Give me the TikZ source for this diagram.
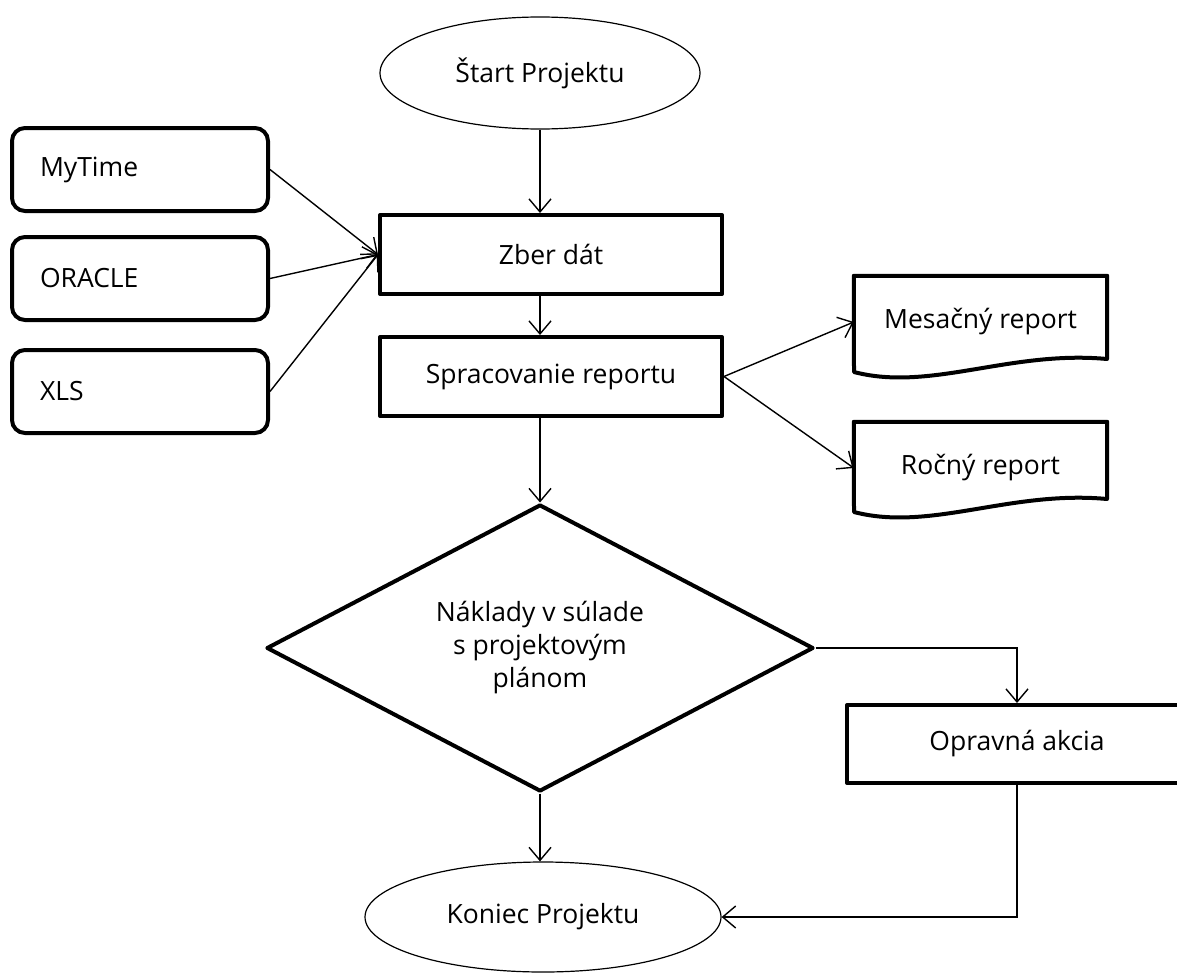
\documentclass[tikz,border=0pt]{standalone}
\usepackage{fontspec}
\setmainfont{Open Sans}
\usetikzlibrary{shapes.geometric,arrows.meta,calc}
\begin{document}
\begin{tikzpicture}[x=1pt,y=-1pt,
  font=\fontsize{26.5}{33}\selectfont,
  thickbox/.style={draw,line width=4pt,rectangle,inner sep=0pt,line join=round},
  srcbox/.style={draw,line width=4pt,rounded corners=13pt,minimum width=256pt,minimum height=83pt,text width=200pt,align=left,inner sep=0pt},
  term/.style={draw,ellipse,line width=1.2pt,inner sep=0pt},
  conn/.style={line width=1.4pt,-{Straight Barb[length=13pt,width=22pt]}},
  docbox/.style={rectangle,inner sep=0pt,minimum width=253pt,minimum height=92pt},
  docline/.style={line width=4pt,line join=round}]
\useasboundingbox (0,0) rectangle (1177,974);
\clip (0,0) rectangle (1177,974);

% terminals
\node[term,minimum width=320pt,minimum height=112pt] (start) at (540,73) {Štart Projektu};
\node[term,minimum width=356pt,minimum height=110pt] (kon) at (543,917) {Koniec Projektu};

% process boxes
\node[thickbox,minimum width=342pt,minimum height=79pt] (zber) at (551,254.5) {\raisebox{-2pt}{Zber dát}};
\node[thickbox,minimum width=342pt,minimum height=79pt] (sprac) at (551,376.5) {\raisebox{-2pt}{Spracovanie reportu}};
\node[thickbox,minimum width=340pt,minimum height=78pt] (opr) at (1017,744) {\raisebox{-2pt}{Opravná akcia}};

% sources
\node[srcbox] (mytime) at (140,169.5) {\raisebox{-3pt}{MyTime}};
\node[srcbox] (oracle) at (140,278.5) {\raisebox{-3pt}{ORACLE}};
\node[srcbox] (xls) at (140,391.5) {\raisebox{-3pt}{XLS}};

% decision
\node[draw,diamond,shape aspect=1.9,line width=4pt,line join=round,inner sep=0pt,minimum width=547pt,minimum height=287pt,align=center] (dia) at (540,648) {Náklady v súlade\\s projektovým\\plánom};

% documents
\node[docbox] (mes) at (980.5,322) {Mesačný report};
\draw[docline] (mes.north west) -- (mes.north east) -- (1107,359) .. controls (1010,350) and (930,392) .. (854,372) -- cycle;
\node[docbox] (roc) at (980.5,468) {\raisebox{5pt}{Ročný report}};
\draw[docline] (roc.north west) -- (roc.north east) -- (1107,499) .. controls (1010,490) and (930,532) .. (854,512) -- cycle;

% connectors
\draw[conn] (start.south) -- (start.south |- zber.north);
\draw[conn] (mytime.east) -- (zber.west);
\draw[conn] (oracle.east) -- (zber.west);
\draw[conn] (xls.east) -- (zber.west);
\draw[conn] (start.south |- zber.south) -- (start.south |- sprac.north);
\draw[conn] (sprac.east) -- (mes.west);
\draw[conn] (sprac.east) -- (roc.west);
\draw[conn] (start.south |- sprac.south) -- (dia.north);
\draw[conn] (dia.east) -| (opr.north);
\draw[conn] (dia.south) -- (dia.south |- kon.north);
\draw[conn] (opr.south) |- (kon.east);
\end{tikzpicture}
\end{document}
